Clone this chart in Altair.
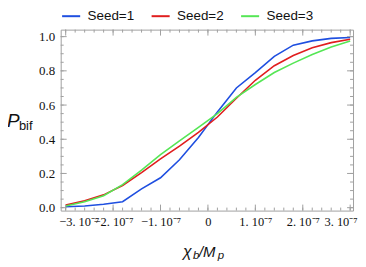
import altair as alt
import pandas as pd
import numpy as np

# x in units of 1e-7 (chi_b / M_p)
x_vals = [-3.0, -2.6, -2.2, -1.8, -1.4, -1.0, -0.6, -0.2, 0.2, 0.6, 1.0, 1.4, 1.8, 2.2, 2.6, 3.0]
seed1 = [0.005, 0.01, 0.02, 0.035, 0.11, 0.175, 0.28, 0.41, 0.56, 0.70, 0.79, 0.885, 0.95, 0.975, 0.99, 0.995]
seed2 = [0.015, 0.04, 0.075, 0.13, 0.205, 0.285, 0.36, 0.44, 0.53, 0.64, 0.745, 0.83, 0.89, 0.935, 0.965, 0.985]
seed3 = [0.01, 0.035, 0.07, 0.135, 0.22, 0.31, 0.39, 0.47, 0.55, 0.645, 0.72, 0.79, 0.845, 0.895, 0.94, 0.975]
series_names = ["Seed=1", "Seed=2", "Seed=3"]
colors = ["#1f4fe0", "#e01e1e", "#55e655"]

x_major = [-3, -2, -1, 0, 1, 2, 3]
x_minor = [round(v, 1) for v in np.arange(-3.0, 3.01, 0.2)]
y_major = [0.0, 0.2, 0.4, 0.6, 0.8, 1.0]
y_minor = [round(v, 2) for v in np.arange(0.0, 1.001, 0.05)]

W, H = 294, 182
x_dom = [-3.105, 3.06]
y_dom = [-0.017, 1.041]
frame = "#a0a0a0"

rows = []
for name, ys in zip(series_names, [seed1, seed2, seed3]):
    for xv, yv in zip(x_vals, ys):
        rows.append({"x": xv, "p": yv, "seed": name})
df = pd.DataFrame(rows)

xs = alt.Scale(domain=x_dom, nice=False, zero=False)
ys_ = alt.Scale(domain=y_dom, nice=False, zero=False)

label_expr = "datum.value == 0 ? '0' : format(datum.value, 'd') + '. 10\u207b\u2077'"

x_axis = alt.Axis(values=x_major, labelExpr=label_expr, ticks=False, domain=False,
                  grid=False, labelFont="Liberation Serif", labelFontSize=12.5,
                  labelColor="#111", labelPadding=5, labelFlush=12,
                  labelFlushOffset=7, labelOverlap=False, title=None)
y_axis = alt.Axis(values=y_major, format=".1f", ticks=False, domain=False,
                  grid=False, labelFont="Liberation Serif", labelFontSize=13,
                  labelColor="#111", labelPadding=6, labelOverlap=False,
                  labelFlush=False, title=None)

lines = alt.Chart(df).mark_line(strokeWidth=1.6, clip=True).encode(
    x=alt.X("x:Q", scale=xs, axis=x_axis),
    y=alt.Y("p:Q", scale=ys_, axis=y_axis),
    color=alt.Color("seed:N", scale=alt.Scale(domain=series_names, range=colors),
                    legend=alt.Legend(title=None, orient="none", legendX=0, legendY=-24,
                                      direction="horizontal", symbolType="stroke",
                                      symbolSize=330, symbolStrokeWidth=2,
                                      labelFont="Liberation Sans", labelFontSize=13.5,
                                      labelColor="#111", columnPadding=13,
                                      labelOffset=6)),
)

xmaj = pd.DataFrame({"t": x_major})
xmin = pd.DataFrame({"t": x_minor})
ymaj = pd.DataFrame({"t": y_major})
ymin = pd.DataFrame({"t": y_minor})

def xticks(d, length):
    b = alt.Chart(d).mark_rule(color=frame, strokeWidth=1).encode(
        x=alt.X("t:Q", scale=xs, axis=x_axis), y=alt.value(H), y2=alt.value(H - length))
    t = alt.Chart(d).mark_rule(color=frame, strokeWidth=1).encode(
        x=alt.X("t:Q", scale=xs, axis=x_axis), y=alt.value(0), y2=alt.value(length))
    return b + t

def yticks(d, length):
    l = alt.Chart(d).mark_rule(color=frame, strokeWidth=1).encode(
        y=alt.Y("t:Q", scale=ys_, axis=y_axis), x=alt.value(0), x2=alt.value(length))
    r = alt.Chart(d).mark_rule(color=frame, strokeWidth=1).encode(
        y=alt.Y("t:Q", scale=ys_, axis=y_axis), x=alt.value(W), x2=alt.value(W - length))
    return l + r

def txt(s, x, y, size, italic=True, align="left"):
    return alt.Chart(pd.DataFrame({"s": [s]})).mark_text(
        text=s, font="Liberation Sans", fontSize=size, fontStyle="italic" if italic else "normal",
        align=align, baseline="alphabetic", color="#111"
    ).encode(x=alt.value(x), y=alt.value(y))

titles = (
    txt("\u03c7", 123, 229, 16) + txt("b", 133, 231, 11.5) + txt("/M", 139, 229, 15) +
    txt("p", 158, 231, 11.5) +
    txt("P", -54, 98, 19) + txt("bif", -42, 101, 13, italic=False)
)

chart = alt.layer(
    lines, xticks(xmin, 3), xticks(xmaj, 6), yticks(ymin, 3), yticks(ymaj, 6), titles
).properties(
    width=W, height=H,
    autosize=alt.AutoSizeParams(type="none"),
    padding={"left": 53, "top": 21, "right": 5, "bottom": 56},
).configure_view(stroke=frame, strokeWidth=1)

chart.save("out.html", embed_options={"renderer": "svg", "actions": False})
